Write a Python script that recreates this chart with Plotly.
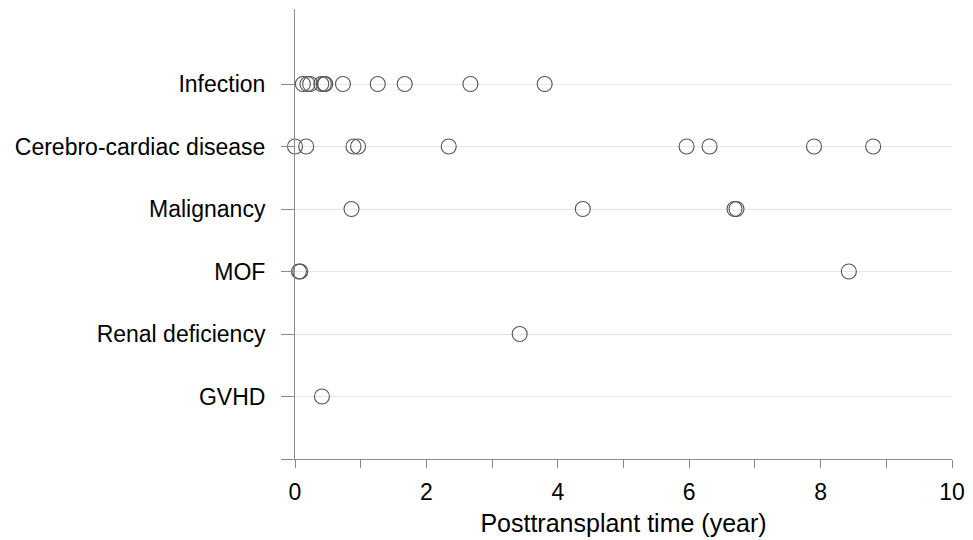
import plotly.graph_objects as go

categories = ["GVHD", "Renal deficiency", "MOF", "Malignancy", "Cerebro-cardiac disease", "Infection"]

infection = [0.12, 0.19, 0.23, 0.40, 0.44, 0.46, 0.73, 1.26, 1.67, 2.67, 3.80]
cerebro_cardiac = [0.0, 0.17, 0.89, 0.96, 2.34, 5.96, 6.31, 7.90, 8.80]
malignancy = [0.86, 4.38, 6.69, 6.72]
mof = [0.06, 0.08, 8.43]
renal = [3.42]
gvhd = [0.41]

series = {
    "Infection": infection,
    "Cerebro-cardiac disease": cerebro_cardiac,
    "Malignancy": malignancy,
    "MOF": mof,
    "Renal deficiency": renal,
    "GVHD": gvhd,
}

x_ticks = list(range(0, 11))
x_ticktext = [str(v) if v % 2 == 0 else "" for v in x_ticks]

fig = go.Figure()
for name, vals in series.items():
    idx = categories.index(name)
    fig.add_trace(go.Scatter(
        x=vals, y=[idx] * len(vals), mode="markers", name=name,
        cliponaxis=False,
        marker=dict(symbol="circle-open", size=15, color="#555555", line=dict(width=1.1, color="#555555")),
        showlegend=False,
    ))

# page body has an 8px margin; size the figure so the plot area lands where the reference has it
fig.update_layout(
    width=965, height=532,
    margin=dict(l=286.5, r=21, t=1, b=81),
    plot_bgcolor="white", paper_bgcolor="white",
    font=dict(family="Liberation Sans, Arial, sans-serif", size=21, color="black"),
)
fig.update_xaxes(
    range=[0, 10], tickvals=x_ticks, ticktext=x_ticktext,
    tickfont=dict(size=23),
    ticks="outside", ticklen=8, tickcolor="#8a8a8a", tickwidth=1,
    showline=True, linecolor="#8a8a8a", linewidth=1,
    showgrid=False, zeroline=False, ticklabelstandoff=4,
    title=dict(text="Posttransplant time (year)", standoff=10, font=dict(size=25)),
)
fig.update_yaxes(
    range=[-1, 6.2], tickvals=[-1] + list(range(len(categories))),
    ticktext=[""] + categories,
    tickfont=dict(size=23),
    ticks="outside", ticklen=13, tickcolor="#8a8a8a", tickwidth=1,
    showline=True, linecolor="#8a8a8a", linewidth=1,
    showgrid=True, gridcolor="#e6e6e6", gridwidth=1,
    zeroline=False, ticklabelstandoff=11,
)

fig.write_html("out.html")
